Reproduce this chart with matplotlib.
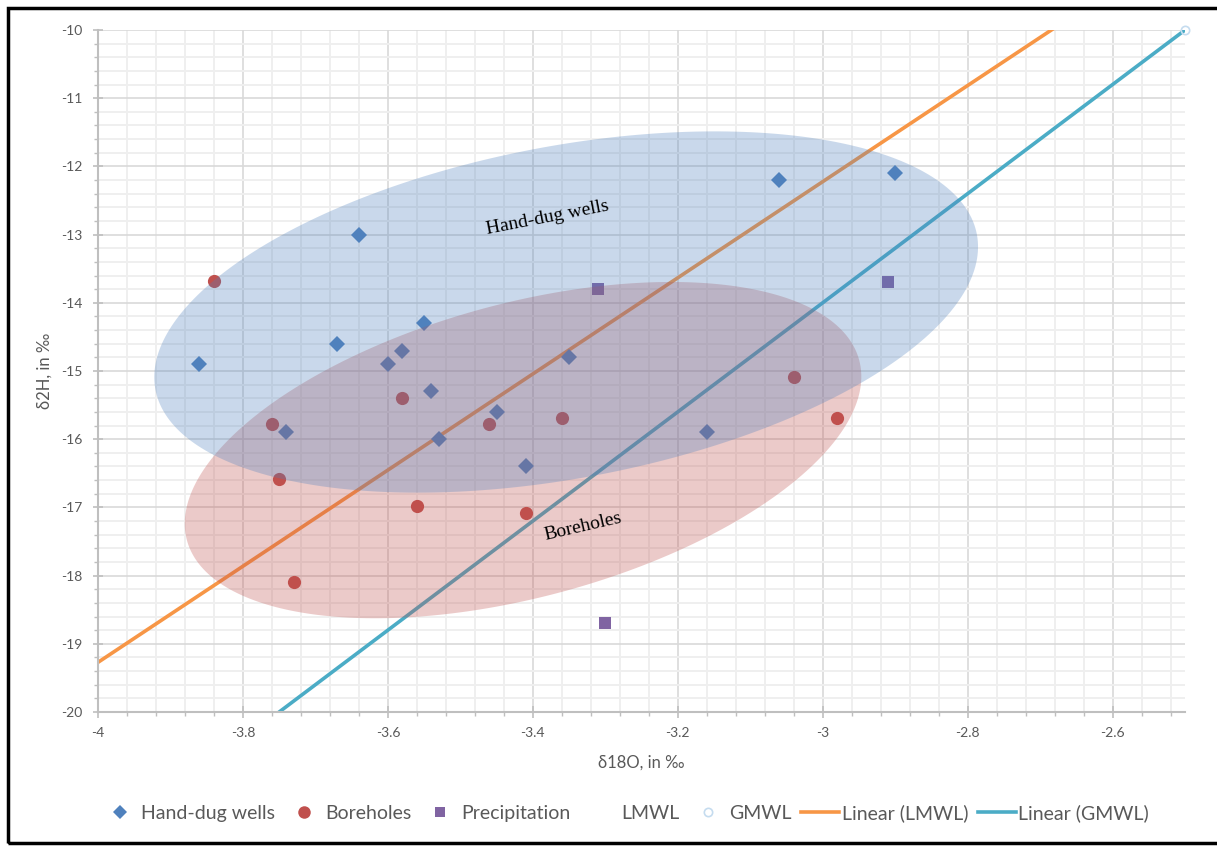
import matplotlib
matplotlib.use("Agg")
import matplotlib.pyplot as plt
import numpy as np
from matplotlib.lines import Line2D
from matplotlib.patches import Rectangle
from matplotlib.ticker import MultipleLocator, FuncFormatter

plt.rcParams['font.family'] = ['Lato', 'DejaVu Sans']
plt.rcParams['axes.unicode_minus'] = False

# data (δ18O, δ2H in ‰)
hd_x = [-3.86, -3.64, -3.67, -3.55, -3.60, -3.58, -3.54, -3.35, -3.45, -3.53, -3.74, -3.41, -3.06, -2.90, -3.16]
hd_y = [-14.9, -13.0, -14.6, -14.3, -14.9, -14.7, -15.3, -14.8, -15.6, -16.0, -15.9, -16.4, -12.2, -12.1, -15.9]

bh_x = [-3.84, -3.76, -3.75, -3.73, -3.58, -3.56, -3.46, -3.36, -3.41, -3.04, -2.98]
bh_y = [-13.68, -15.78, -16.58, -18.09, -15.40, -16.98, -15.78, -15.69, -17.08, -15.09, -15.69]

pr_x = [-3.31, -2.91, -3.30]
pr_y = [-13.80, -13.70, -18.70]

lmwl_x = [-5.0, -2.5]
lmwl_y = [-26.32, -8.70]
gmwl_x = [-5.0, -2.5]
gmwl_y = [-30.0, -10.0]

c_blue = '#4F81BD'
c_red = '#C0504D'
c_purple = '#8064A2'
c_orange = '#F79646'
c_teal = '#4BACC6'
c_text = '#595959'

fig = plt.figure(figsize=(12.17, 8.46), dpi=100)
ax = fig.add_axes([0.08053, 0.15839, 0.8932, 0.80615])

ax.set_xlim(-4, -2.5)
ax.set_ylim(-20, -10)
ax.xaxis.set_major_locator(MultipleLocator(0.2))
ax.xaxis.set_minor_locator(MultipleLocator(0.04))
ax.yaxis.set_major_locator(MultipleLocator(1))
ax.yaxis.set_minor_locator(MultipleLocator(0.2))
ax.xaxis.set_major_formatter(FuncFormatter(lambda v, p: f"{v:g}"))
ax.yaxis.set_major_formatter(FuncFormatter(lambda v, p: f"{v:g}"))

ax.grid(which='major', color='#d9d9d9', lw=1.2, zorder=0)
ax.grid(which='minor', color='#efefef', lw=1.4, zorder=0)
ax.set_axisbelow(True)
for s in ['top', 'right']:
    ax.spines[s].set_visible(False)
for s in ['left', 'bottom']:
    ax.spines[s].set_color('#bfbfbf')
    ax.spines[s].set_linewidth(1.5)

ax.tick_params(axis='y', which='major', direction='inout', length=7, color='#bfbfbf', width=1.2,
               labelsize=10, labelcolor=c_text, pad=8)
ax.tick_params(axis='y', which='minor', direction='out', length=3, color='#bfbfbf', width=1)
ax.tick_params(axis='x', which='major', direction='inout', length=8, color='#bfbfbf', width=1.2,
               labelsize=10, labelcolor=c_text, pad=7)
ax.tick_params(axis='x', which='minor', direction='out', length=3, color='#bfbfbf', width=1)

# trend lines
xs = np.array([-5.0, -2.5])
k1, b1 = np.polyfit(lmwl_x, lmwl_y, 1)
k2, b2 = np.polyfit(gmwl_x, gmwl_y, 1)
ax.plot(xs, k1 * xs + b1, color=c_orange, lw=2.6, zorder=2)
ax.plot(xs, k2 * xs + b2, color=c_teal, lw=2.6, zorder=2)

# series
ax.plot(hd_x, hd_y, 'D', color=c_blue, ms=8.5, mew=0, zorder=3)
ax.plot(bh_x, bh_y, 'o', color=c_red, ms=9.5, mew=0, zorder=3)
ax.plot(pr_x, pr_y, 's', color=c_purple, ms=8, mew=0, zorder=3)
ax.plot(gmwl_x, gmwl_y, 'o', mfc='none', mec='#c5dcef', ms=6, mew=1.2, zorder=3, clip_on=False)
ax.set_ylim(-20, -10)
ax.set_xlim(-4, -2.5)

# shaded group ellipses (semi-axes in pixels, tilt in degrees)
sx = fig.get_figwidth() * fig.dpi * 0.8932 / 1.5
sy = fig.get_figheight() * fig.dpi * 0.80615 / 10.0
t = np.linspace(0, 2 * np.pi, 300)


def ellipse(cx, cy, a, b, ang):
    th = np.radians(ang)
    dx = a * np.cos(t) * np.cos(th) - b * np.sin(t) * np.sin(th)
    dy = a * np.cos(t) * np.sin(th) + b * np.sin(t) * np.cos(th)
    return cx + dx / sx, cy + dy / sy


ex, ey = ellipse(-3.4135, -16.16, 348, 147, 15)
ax.fill(ex, ey, color=c_red, alpha=0.3, lw=0, zorder=4)
ex, ey = ellipse(-3.354, -14.135, 418, 166, 10.7)
ax.fill(ex, ey, color=c_blue, alpha=0.3, lw=0, zorder=4)

ax.text(-3.38, -12.757, "Hand-dug wells", rotation=11, family='Liberation Serif', fontsize=14,
        ha='center', va='center', rotation_mode='anchor', zorder=6)
ax.text(-3.331, -17.29, "Boreholes", rotation=13, family='Liberation Serif', fontsize=14,
        ha='center', va='center', rotation_mode='anchor', zorder=6)

ax.set_xlabel("δ18O, in ‰", fontsize=12, color=c_text, va='center')
ax.set_ylabel("δ2H, in ‰", fontsize=12, color=c_text, va='center')
ax.xaxis.set_label_coords(0.5, -0.0748)
ax.yaxis.set_label_coords(-0.0488, 0.5)

handles = [
    Line2D([], [], ls='none', marker='D', color=c_blue, ms=7.5, mew=0),
    Line2D([], [], ls='none', marker='o', color=c_red, ms=9, mew=0),
    Line2D([], [], ls='none', marker='s', color=c_purple, ms=7, mew=0),
    Line2D([], [], ls='none', marker='none'),
    Line2D([], [], ls='none', marker='o', mfc='none', mec='#c5dcef', ms=6, mew=1.2),
    Line2D([], [], color=c_orange, lw=2.6),
    Line2D([], [], color=c_teal, lw=2.6),
]
labels = ["Hand-dug wells", "Boreholes", "Precipitation", "LMWL", "GMWL", "Linear (LMWL)", "Linear (GMWL)"]
leg = fig.legend(handles, labels, ncol=7, loc='center', bbox_to_anchor=(625 / 1217, 1 - 813 / 846),
                 frameon=False, fontsize=14, handlelength=1.95, handletextpad=0.12, columnspacing=0.5)
for txt in leg.get_texts():
    txt.set_color(c_text)

fig.patches.append(Rectangle((8 / 1217, 3 / 846), 1.1, 835 / 846, transform=fig.transFigure,
                             fill=False, ec='black', lw=2.5))

fig.savefig("out.png", dpi=100)
